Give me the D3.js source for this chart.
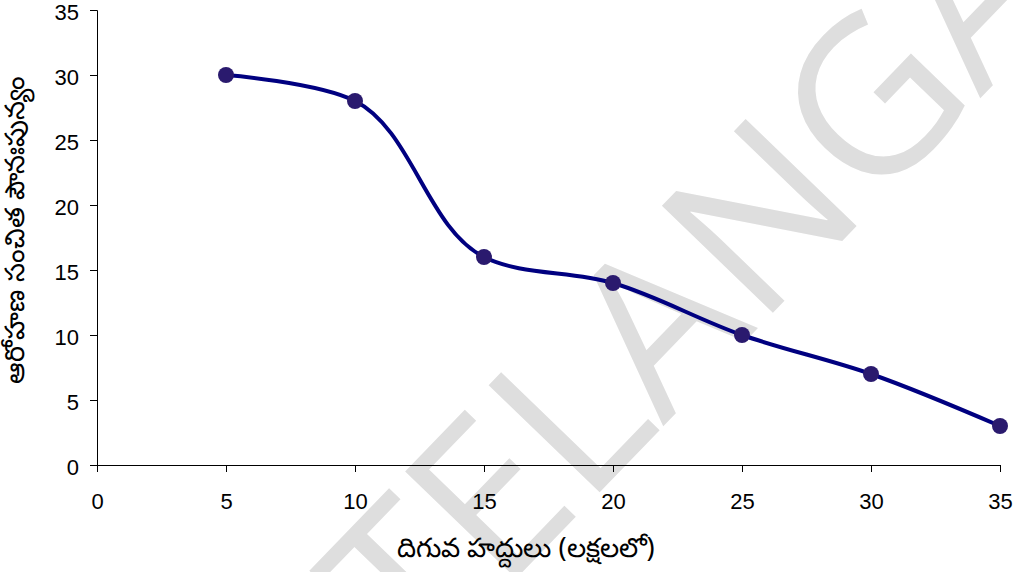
<!DOCTYPE html>
<html>
<head>
<meta charset="utf-8">
<script src="https://cdn.jsdelivr.net/npm/d3@7"></script>
<style>
  body { margin: 0; background: #fff; }
  svg { display: block; }
  .tick text { font-family: "Liberation Sans", Arial, sans-serif; font-size: 22px; fill: #000; }
  .tick line, .domain { stroke: #000; }
</style>
</head>
<body>
<div id="chart"></div>
<script>
const lowerLimits = [5, 10, 15, 20, 25, 30, 35]
const cumFreq = [30, 28, 16, 14, 10, 7, 3]
const xTicks = [0, 5, 10, 15, 20, 25, 30, 35]
const yTicks = [0, 5, 10, 15, 20, 25, 30, 35]
const xLabel = 'దిగువ హద్దులు (లక్షలలో)'
const yLabel = 'ఆరోహణ సంచిత పౌనఃపున్యం'
const watermark = 'TELANGANA'

const W = 1017, H = 572
const margin = { top: 10, right: 17, bottom: 107, left: 97 }
const width = W - margin.left - margin.right
const height = H - margin.top - margin.bottom

const xScale = d3.scaleLinear().domain([0, 35]).range([0, width])
const yScale = d3.scaleLinear().domain([0, 35]).range([height, 0])

const svg = d3.select('#chart').append('svg')
    .attr('width', W)
    .attr('height', H)

// watermark sits behind the chart
svg.append('text')
    .attr('transform', 'translate(795,178) rotate(-46)')
    .attr('text-anchor', 'middle')
    .attr('dy', '0.36em')
    .style('font-family', '"Open Sans", "Liberation Sans", sans-serif')
    .style('font-size', '216px')
    .style('fill', '#dedede')
    .text(watermark)

const g = svg.append('g')
    .attr('transform', `translate(${margin.left},${margin.top})`)

g.append('g')
    .attr('transform', `translate(0,${height})`)
    .call(d3.axisBottom(xScale).tickValues(xTicks).tickSize(7).tickPadding(21))

g.append('g')
    .call(d3.axisLeft(yScale).tickValues(yTicks).tickSize(7).tickPadding(11))
    .selectAll('.tick text')
    .attr('dy', '0.45em')

const pts = lowerLimits.map((x, i) => [x, cumFreq[i]])

const line = d3.line()
    .x(d => xScale(d[0]))
    .y(d => yScale(d[1]))
    .curve(d3.curveCatmullRom.alpha(1))

g.append('path')
    .datum(pts)
    .attr('d', line)
    .attr('fill', 'none')
    .attr('stroke', '#000080')
    .attr('stroke-width', 4)

g.selectAll('.dot')
    .data(pts)
    .enter().append('circle')
    .attr('class', 'dot')
    .attr('r', 8)
    .attr('cx', d => xScale(d[0]))
    .attr('cy', d => yScale(d[1]))
    .attr('fill', '#2a1a6e')

svg.append('text')
    .attr('x', 526)
    .attr('y', 557)
    .attr('text-anchor', 'middle')
    .style('font-family', '"Noto Sans", sans-serif')
    .style('font-size', '27px')
    .text(xLabel)

svg.append('text')
    .attr('transform', 'translate(24,230) rotate(-90)')
    .attr('text-anchor', 'middle')
    .style('font-family', '"Noto Sans", sans-serif')
    .style('font-size', '27px')
    .text(yLabel)
</script>
</body>
</html>
